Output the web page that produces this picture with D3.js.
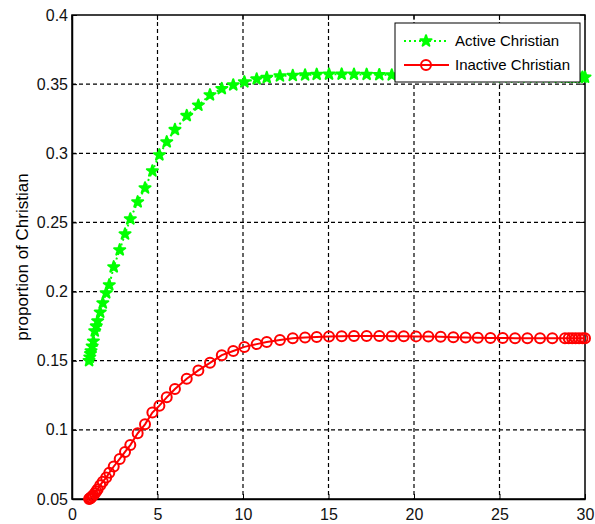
<!DOCTYPE html>
<html>
<head>
<meta charset="utf-8">
<script src="https://cdn.jsdelivr.net/npm/d3@7"></script>
<style>
  body { margin: 0; background: #fff; }
  text { font-family: "Liberation Sans", Arial, sans-serif; }
</style>
</head>
<body>
<div id="chart"></div>
<script>
// time steps (shared by both series, as from the ode solver)
var tValues = [1, 1.04, 1.08, 1.11, 1.18, 1.25, 1.33, 1.42, 1.5, 1.65, 1.8, 2.0, 2.18, 2.44, 2.79, 3.10,
    3.41, 3.84, 4.27, 4.70, 5.11, 5.54, 6.02, 6.71, 7.39, 8.07, 8.76, 9.43, 10.08, 10.80, 11.39, 12.16,
    12.91, 13.63, 14.31, 15.03, 15.77, 16.49, 17.23, 17.97, 18.70, 19.40, 20.12, 20.84, 21.56, 22.30,
    23.02, 23.73, 24.47, 25.19, 25.91, 26.63, 27.37, 28.09, 28.83, 29.05, 29.25, 29.45, 29.65, 29.85, 30];

var activeValues = [0.15, 0.1525, 0.155, 0.157, 0.1605, 0.164, 0.1715, 0.175, 0.1787, 0.185, 0.1917, 0.199,
    0.2048, 0.2178, 0.2301, 0.2416, 0.2525, 0.2648, 0.2749, 0.2872, 0.2988, 0.3082, 0.3171, 0.3272, 0.3347,
    0.3422, 0.3467, 0.3494, 0.3516, 0.3537, 0.3547, 0.3559, 0.3562, 0.3566, 0.3570, 0.3572, 0.3572, 0.3571,
    0.3570, 0.3568, 0.3566, 0.3564, 0.3562, 0.3560, 0.3558, 0.3556, 0.3555, 0.3554, 0.3553, 0.3552, 0.3552,
    0.3551, 0.3551, 0.3550, 0.3550, 0.3550, 0.3550, 0.3550, 0.3550, 0.3550, 0.3550];

var inactiveValues = [0.05, 0.0503, 0.0506, 0.051, 0.052, 0.0528, 0.054, 0.0556, 0.057, 0.060, 0.0625, 0.0655,
    0.069, 0.0735, 0.079, 0.084, 0.089, 0.0975, 0.104, 0.1125, 0.1175, 0.1235, 0.1295, 0.137, 0.143, 0.1485,
    0.154, 0.157, 0.160, 0.162, 0.1635, 0.165, 0.1662, 0.1668, 0.1672, 0.1675, 0.1677, 0.1678, 0.1678, 0.1678,
    0.1677, 0.1677, 0.1676, 0.1675, 0.1673, 0.1670, 0.1668, 0.1666, 0.1665, 0.1664, 0.1663, 0.1663, 0.1662,
    0.1662, 0.1662, 0.1662, 0.1662, 0.1662, 0.1662, 0.1662, 0.1662];

var xTicks = [0, 5, 10, 15, 20, 25, 30];
var yTicks = [0.05, 0.1, 0.15, 0.2, 0.25, 0.3, 0.35, 0.4];
var seriesNames = ["Active Christian", "Inactive Christian"];

var width = 595, height = 524;
var margin = { left: 72, top: 15, right: 10, bottom: 25 };

var svg = d3.select("#chart").append("svg").attr("width", width).attr("height", height);

var x = d3.scaleLinear().domain([0, 30]).range([margin.left, width - margin.right]);
var y = d3.scaleLinear().domain([0.05, 0.4]).range([height - margin.bottom, margin.top]);

// grid
var grid = svg.append("g").attr("stroke", "#000").attr("stroke-width", 1.2).attr("stroke-dasharray", "4,3");
grid.selectAll(".gx").data(xTicks.slice(1, -1)).enter().append("line")
    .attr("x1", d => x(d)).attr("x2", d => x(d))
    .attr("y1", y(0.4)).attr("y2", y(0.05));
grid.selectAll(".gy").data(yTicks.slice(1, -1)).enter().append("line")
    .attr("y1", d => y(d)).attr("y2", d => y(d))
    .attr("x1", x(0)).attr("x2", x(30));

// axes
var xAxis = svg.append("g").attr("transform", "translate(0," + y(0.05) + ")")
    .call(d3.axisBottom(x).tickValues(xTicks).tickSizeInner(-5).tickSizeOuter(0).tickPadding(10));
var yAxis = svg.append("g").attr("transform", "translate(" + x(0) + ",0)")
    .call(d3.axisLeft(y).tickValues(yTicks).tickFormat(d3.format("")).tickSizeInner(-5).tickSizeOuter(0).tickPadding(4));
[xAxis, yAxis].forEach(function (a) {
    a.select(".domain").attr("stroke-width", 1.5);
    a.selectAll("text").attr("font-size", 16).attr("fill", "#111");
});
// top and right ticks
svg.append("g").selectAll("line").data(xTicks).enter().append("line")
    .attr("x1", d => x(d)).attr("x2", d => x(d)).attr("y1", y(0.4)).attr("y2", y(0.4) + 5).attr("stroke", "#000");
svg.append("g").selectAll("line").data(yTicks).enter().append("line")
    .attr("y1", d => y(d)).attr("y2", d => y(d)).attr("x1", x(30)).attr("x2", x(30) - 5).attr("stroke", "#000");
svg.append("rect").attr("x", x(0)).attr("y", y(0.4)).attr("width", x(30) - x(0)).attr("height", y(0.05) - y(0.4))
    .attr("fill", "none").attr("stroke", "#000").attr("stroke-width", 1.5);

// y title
svg.append("text").attr("transform", "translate(28," + ((y(0.4) + y(0.05)) / 2) + ") rotate(-90)")
    .attr("text-anchor", "middle").attr("font-size", 17).text("proportion of Christian");

var star = d3.symbol().type(d3.symbolStar).size(38);

function drawSeries(values, color, dash, marker) {
    var pts = tValues.map((t, i) => [t, values[i]]);
    var line = d3.line().x(d => x(d[0])).y(d => y(d[1]));
    svg.append("path").datum(pts).attr("d", line).attr("fill", "none")
        .attr("stroke", color).attr("stroke-width", 2).attr("stroke-dasharray", dash);
    var g = svg.append("g");
    if (marker === "star") {
        g.selectAll("path").data(pts).enter().append("path")
            .attr("d", star).attr("transform", d => "translate(" + x(d[0]) + "," + y(d[1]) + ")")
            .attr("fill", color).attr("stroke", color).attr("stroke-width", 2).attr("stroke-linejoin", "round");
    } else {
        g.selectAll("circle").data(pts).enter().append("circle")
            .attr("cx", d => x(d[0])).attr("cy", d => y(d[1])).attr("r", 5)
            .attr("fill", "none").attr("stroke", color).attr("stroke-width", 2);
    }
}
drawSeries(activeValues, "#00ff00", "2,3", "star");
drawSeries(inactiveValues, "#ff0000", null, "circle");

// legend
var lg = svg.append("g").attr("transform", "translate(395,23)");
lg.append("rect").attr("width", 185).attr("height", 59).attr("fill", "#fff").attr("stroke", "#000").attr("stroke-width", 1);
var legendItems = [
    { name: seriesNames[0], color: "#00ff00", dash: "2,3", marker: "star" },
    { name: seriesNames[1], color: "#ff0000", dash: null, marker: "circle" }
];
legendItems.forEach(function (item, i) {
    var ly = 18 + i * 24;
    lg.append("line").attr("x1", 9).attr("x2", 54).attr("y1", ly).attr("y2", ly)
        .attr("stroke", item.color).attr("stroke-width", 2).attr("stroke-dasharray", item.dash);
    if (item.marker === "star") {
        lg.append("path").attr("d", star).attr("transform", "translate(31," + ly + ")")
            .attr("fill", item.color).attr("stroke", item.color).attr("stroke-width", 2).attr("stroke-linejoin", "round");
    } else {
        lg.append("circle").attr("cx", 31).attr("cy", ly).attr("r", 5)
            .attr("fill", "none").attr("stroke", item.color).attr("stroke-width", 2);
    }
    lg.append("text").attr("x", 60).attr("y", ly + 5).attr("font-size", 15).text(item.name);
});
</script>
</body>
</html>
